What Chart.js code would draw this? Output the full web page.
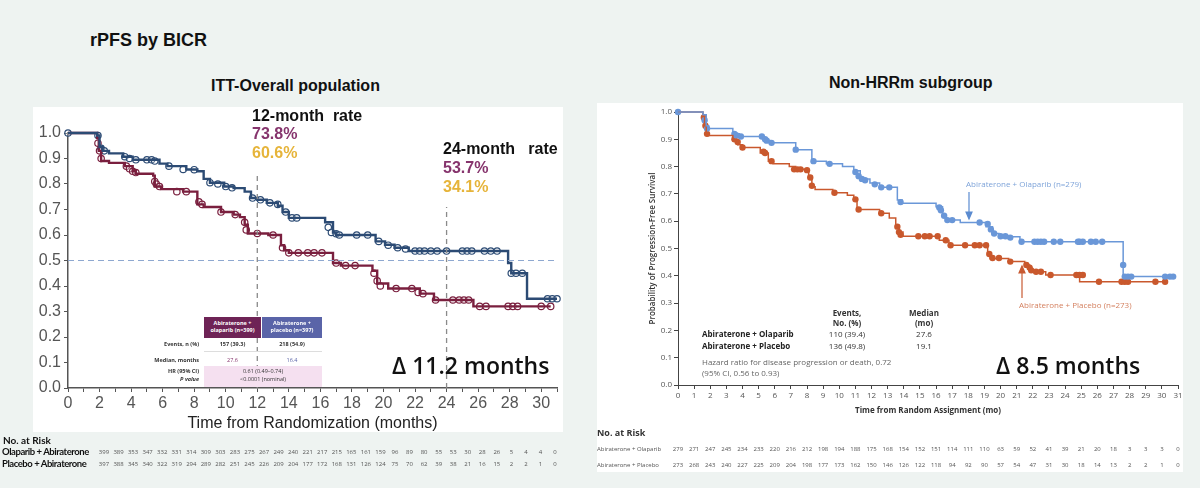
<!DOCTYPE html>
<html>
<head>
<meta charset="utf-8">
<script src="https://cdn.jsdelivr.net/npm/chart.js@4.4.1/dist/chart.umd.min.js"></script>
<style>
  body{margin:0;width:1200px;height:488px;background:#eef3f1;position:relative;overflow:hidden;font-family:"Liberation Sans",Arial,sans-serif;color:#111}
  .abs{position:absolute;white-space:nowrap;line-height:1}
  .panel{position:absolute;background:#fff}
  .big{font-weight:bold;font-size:16px}
  .tbl{font-family:"Open Sans",sans-serif;font-size:5.5px;color:#333}
  .hd{position:absolute;color:#fff;font-family:"Open Sans",sans-serif;font-size:5.5px;font-weight:bold;text-align:center;line-height:1.35;padding-top:3px;box-sizing:border-box}
  .nejm{font-family:"Open Sans",sans-serif;font-size:8px;color:#333}
  .risk{font-family:"Open Sans",sans-serif;font-size:6px;color:#555}
  .delta{font-family:"Open Sans",sans-serif;font-size:23px;font-weight:600;color:#111}
  canvas{position:absolute}
</style>
</head>
<body>
<div class="panel" style="left:33px;top:107px;width:530px;height:325px"></div>
<div class="panel" style="left:597px;top:103px;width:586px;height:369px"></div>

<div class="abs" style="left:90px;top:31px;font-size:18px;font-weight:bold">rPFS by BICR</div>
<div class="abs" style="left:211px;top:78px;font-size:16px;font-weight:bold">ITT-Overall population</div>
<div class="abs" style="left:829px;top:75px;font-size:16px;font-weight:bold">Non-HRRm subgroup</div>

<canvas id="itt" width="575" height="313" style="left:0;top:120px"></canvas>
<canvas id="sub" width="590" height="320" style="left:596px;top:100px"></canvas>

<!-- ITT annotations -->
<div class="abs big" style="left:252px;top:108px">12-month&nbsp;&nbsp;rate</div>
<div class="abs big" style="left:252px;top:126px;color:#86346d">73.8%</div>
<div class="abs big" style="left:252px;top:145px;color:#e6b43a">60.6%</div>
<div class="abs big" style="left:443px;top:141px">24-month&nbsp;&nbsp;&nbsp;rate</div>
<div class="abs big" style="left:443px;top:160px;color:#86346d">53.7%</div>
<div class="abs big" style="left:443px;top:179px;color:#e6b43a">34.1%</div>
<div class="abs delta" style="left:392px;top:354px">Δ 11.2 months</div>

<div class="hd" style="left:204px;top:317px;width:57px;height:21px;background:#6e2356">Abiraterone +<br>olaparib (n=399)</div>
<div class="hd" style="left:262px;top:317px;width:60px;height:21px;background:#5a64a8">Abiraterone +<br>placebo (n=397)</div>
<div class="abs tbl" style="left:150px;top:342px;width:49px;text-align:right;font-weight:bold">Events, n (%)</div>
<div class="abs tbl" style="left:204px;top:342px;width:57px;text-align:center;font-weight:bold">157 (39.3)</div>
<div class="abs tbl" style="left:262px;top:342px;width:60px;text-align:center;font-weight:bold">218 (54.9)</div>
<div class="abs" style="left:204px;top:351px;width:118px;height:1px;background:#ddd"></div>
<div class="abs tbl" style="left:150px;top:358px;width:49px;text-align:right;font-weight:bold">Median, months</div>
<div class="abs tbl" style="left:204px;top:358px;width:57px;text-align:center;color:#86346d">27.6</div>
<div class="abs tbl" style="left:262px;top:358px;width:60px;text-align:center;color:#5a64a8">16.4</div>
<div class="abs" style="left:204px;top:366px;width:118px;height:21px;background:#f5e0f0"></div>
<div class="abs tbl" style="left:150px;top:369px;width:49px;text-align:right;font-weight:bold">HR (95% CI)</div>
<div class="abs tbl" style="left:150px;top:377px;width:49px;text-align:right;font-weight:bold;font-style:italic">P value</div>
<div class="abs tbl" style="left:204px;top:369px;width:118px;text-align:center">0.61 (0.49–0.74)</div>
<div class="abs tbl" style="left:204px;top:377px;width:118px;text-align:center">&lt;0.0001 (nominal)</div>

<!-- Sub-group annotations -->
<div class="abs nejm" style="left:966px;top:180px;color:#7fa4d9">Abiraterone + Olaparib (n=279)</div>
<div class="abs nejm" style="left:1019px;top:301px;color:#d4805f">Abiraterone + Placebo (n=273)</div>
<svg class="abs" style="left:0;top:0" width="1200" height="488">
  <g stroke="#5b8bd0" fill="#5b8bd0" stroke-width="1.2">
    <line x1="969" y1="192" x2="969" y2="215"/><path d="M966 212 L969 219 L972 212 Z"/>
  </g>
  <g stroke="#c85a32" fill="#c85a32" stroke-width="1.2">
    <line x1="1022" y1="298" x2="1022" y2="270"/><path d="M1019 273 L1022 266 L1025 273 Z"/>
  </g>
</svg>
<div class="abs nejm" style="left:826px;top:308px;width:42px;text-align:center;font-weight:bold;line-height:1.3">Events,<br>No. (%)</div>
<div class="abs nejm" style="left:904px;top:308px;width:40px;text-align:center;font-weight:bold;line-height:1.3">Median<br>(mo)</div>
<div class="abs nejm" style="left:702px;top:330px;font-weight:bold;color:#222">Abiraterone + Olaparib</div>
<div class="abs nejm" style="left:702px;top:342px;font-weight:bold;color:#222">Abiraterone + Placebo</div>
<div class="abs nejm" style="left:822px;top:330px;width:50px;text-align:center">110 (39.4)</div>
<div class="abs nejm" style="left:822px;top:342px;width:50px;text-align:center">136 (49.8)</div>
<div class="abs nejm" style="left:904px;top:330px;width:40px;text-align:center">27.6</div>
<div class="abs nejm" style="left:904px;top:342px;width:40px;text-align:center">19.1</div>
<div class="abs nejm" style="left:702px;top:358px;color:#666">Hazard ratio for disease progression or death, 0.72</div>
<div class="abs nejm" style="left:702px;top:369px;color:#666">(95% CI, 0.56 to 0.93)</div>
<div class="abs delta" style="left:996px;top:354px">Δ 8.5 months</div>

<!-- risk tables -->
<div class="abs" style="left:3px;top:435px;font-family:Lato,sans-serif;font-size:10px;font-weight:bold">No. at Risk</div>
<div class="abs" style="left:2px;top:447px;font-family:Lato,sans-serif;font-size:9.5px;font-weight:bold;letter-spacing:-0.45px">Olaparib + Abiraterone</div>
<div class="abs" style="left:2px;top:459px;font-family:Lato,sans-serif;font-size:9.5px;font-weight:bold;letter-spacing:-0.45px">Placebo + Abiraterone</div>
<div class="abs" style="left:597px;top:428px;font-family:'Open Sans',sans-serif;font-size:9px;font-weight:bold;color:#333">No. at Risk</div>
<div class="abs risk" style="left:597px;top:446px">Abiraterone + Olaparib</div>
<div class="abs risk" style="left:597px;top:462px">Abiraterone + Placebo</div>
<div id="riskRows"></div>

<script>
// ---- ITT overall population (rPFS by BICR), step points [month, probability]
const ittOlaparib = [[0,1.0],[1.85,0.99],[2.0,0.945],[2.2,0.93],[2.6,0.92],[3.5,0.907],[4.1,0.895],[5.8,0.88],[6.3,0.87],[7.5,0.857],[8.2,0.85],[8.6,0.82],[9.0,0.805],[9.9,0.79],[10.5,0.784],[11.2,0.77],[11.6,0.745],[12.0,0.738],[12.6,0.726],[13.3,0.715],[13.6,0.69],[14.0,0.667],[16.3,0.65],[16.8,0.61],[17.0,0.60],[19.5,0.575],[20.1,0.562],[20.7,0.55],[21.6,0.537],[27.9,0.49],[28.1,0.45],[29.1,0.35],[31.0,0.35]];
const ittPlacebo = [[0,1.0],[1.85,0.98],[1.95,0.93],[2.1,0.89],[2.6,0.883],[3.6,0.87],[4.1,0.85],[4.3,0.84],[5.4,0.833],[5.5,0.79],[5.9,0.78],[7.3,0.77],[8.2,0.72],[8.6,0.71],[9.7,0.69],[10.5,0.68],[10.9,0.67],[11.2,0.64],[11.4,0.606],[12.7,0.60],[13.5,0.56],[13.7,0.54],[14.0,0.53],[16.8,0.49],[17.3,0.48],[19.3,0.46],[19.6,0.41],[20.3,0.39],[22.3,0.37],[23.2,0.345],[25.7,0.32],[30.6,0.32]];
const ittOlaCensor = [[0,1.0],[1.9,0.99],[2.1,0.94],[2.3,0.93],[3.6,0.907],[3.9,0.9],[4.3,0.895],[5.0,0.895],[5.3,0.895],[5.5,0.89],[6.4,0.87],[7.3,0.857],[8.0,0.856],[9.0,0.805],[9.5,0.8],[10.0,0.79],[10.4,0.785],[11.7,0.745],[12.2,0.738],[12.8,0.726],[13.3,0.72],[13.8,0.69],[14.2,0.667],[14.5,0.667],[16.5,0.63],[16.7,0.61],[17.0,0.605],[17.2,0.6],[18.3,0.6],[19.0,0.6],[19.7,0.575],[20.3,0.56],[20.9,0.55],[21.4,0.545],[22.0,0.537],[22.3,0.537],[22.6,0.537],[23.0,0.537],[23.4,0.537],[24.0,0.537],[25.0,0.537],[25.3,0.537],[25.6,0.537],[26.4,0.537],[26.8,0.537],[27.2,0.537],[28.1,0.45],[28.4,0.45],[28.8,0.45],[30.4,0.35],[30.7,0.35],[31.0,0.35]];
const ittPlaCensor = [[1.9,0.96],[2.0,0.93],[2.1,0.9],[3.7,0.87],[3.9,0.86],[4.1,0.85],[4.3,0.845],[5.5,0.81],[5.6,0.8],[5.8,0.79],[6.9,0.77],[7.5,0.77],[8.3,0.73],[8.5,0.72],[9.7,0.69],[10.6,0.68],[11.2,0.65],[11.3,0.62],[12.0,0.606],[13.0,0.6],[13.6,0.55],[14.0,0.53],[14.6,0.53],[15.2,0.53],[15.6,0.53],[16.1,0.53],[17.0,0.49],[17.6,0.48],[18.2,0.48],[19.4,0.45],[19.6,0.42],[19.8,0.4],[20.8,0.39],[21.8,0.39],[22.2,0.375],[22.5,0.37],[23.3,0.345],[24.4,0.345],[24.8,0.345],[25.1,0.345],[25.4,0.345],[26.1,0.32],[26.5,0.32],[27.9,0.32],[28.2,0.32],[28.5,0.32],[30.0,0.32],[30.6,0.32]];
const ittLandmarks = [[12,0.835],[24,0.71]];
const ittRiskOla = [399,389,353,347,332,331,314,309,303,283,275,267,249,240,221,217,215,165,161,159,96,89,80,55,53,30,28,26,5,4,4,0];
const ittRiskPla = [397,388,345,340,322,319,294,289,282,251,245,226,209,204,177,172,168,131,126,124,75,70,62,39,38,21,16,15,2,2,1,0];

// ---- Non-HRRm subgroup
const subOlaparib = [[0,1.0],[1.55,0.99],[1.75,0.95],[1.9,0.94],[3.4,0.92],[3.8,0.91],[5.3,0.896],[5.7,0.887],[7.3,0.862],[8.3,0.82],[9.2,0.81],[10.2,0.80],[10.9,0.785],[11.3,0.755],[11.9,0.74],[12.5,0.724],[13.6,0.678],[13.9,0.666],[16.0,0.653],[16.4,0.622],[16.6,0.604],[17.5,0.595],[19.1,0.58],[19.5,0.555],[19.9,0.543],[21.2,0.525],[27.6,0.397],[30.7,0.397]];
const subPlacebo = [[0,1.0],[1.55,0.99],[1.65,0.95],[1.75,0.92],[1.9,0.914],[3.4,0.896],[3.7,0.88],[4.0,0.87],[5.1,0.85],[5.6,0.82],[5.9,0.81],[6.9,0.80],[7.3,0.79],[7.9,0.787],[8.1,0.756],[8.3,0.726],[8.5,0.716],[9.6,0.704],[10.5,0.695],[10.9,0.68],[11.1,0.643],[12.5,0.629],[13.1,0.612],[13.5,0.575],[13.7,0.56],[13.95,0.545],[16.2,0.53],[16.8,0.512],[19.2,0.483],[19.35,0.463],[20.5,0.452],[21.5,0.44],[21.8,0.42],[22.0,0.415],[22.8,0.403],[24.9,0.378],[30.2,0.378]];
const subOlaCensor = [[0,1.0],[1.65,0.97],[1.8,0.94],[3.5,0.92],[3.6,0.915],[3.9,0.91],[5.2,0.91],[5.4,0.9],[5.5,0.895],[5.8,0.887],[7.3,0.862],[8.4,0.82],[9.4,0.81],[11.0,0.78],[11.2,0.765],[11.4,0.755],[11.6,0.75],[12.2,0.735],[12.6,0.724],[13.1,0.724],[13.8,0.67],[16.2,0.65],[16.3,0.64],[16.5,0.62],[16.7,0.604],[17.0,0.604],[18.7,0.595],[19.2,0.59],[19.4,0.57],[19.6,0.555],[20.0,0.545],[20.3,0.545],[20.6,0.54],[21.3,0.525],[22.1,0.525],[22.3,0.525],[22.5,0.525],[22.7,0.525],[23.3,0.525],[23.7,0.525],[24.8,0.525],[24.9,0.525],[25.1,0.525],[25.6,0.525],[25.9,0.525],[26.3,0.525],[27.6,0.44],[27.7,0.397],[27.9,0.397],[28.1,0.397],[30.2,0.397],[30.5,0.397],[30.7,0.397]];
const subPlaCensor = [[1.6,0.98],[1.7,0.95],[1.8,0.92],[3.5,0.9],[3.7,0.89],[4.0,0.87],[5.3,0.855],[5.4,0.85],[5.8,0.82],[7.2,0.79],[7.4,0.79],[7.6,0.79],[8.0,0.787],[8.2,0.76],[8.3,0.73],[9.7,0.704],[11.0,0.68],[11.2,0.643],[12.6,0.629],[13.6,0.58],[13.7,0.56],[13.8,0.55],[14.9,0.545],[15.3,0.545],[15.6,0.545],[16.1,0.545],[16.6,0.53],[16.9,0.512],[17.8,0.512],[18.4,0.512],[18.7,0.512],[19.1,0.512],[19.3,0.48],[19.5,0.465],[19.9,0.465],[20.6,0.452],[21.6,0.44],[21.8,0.43],[21.9,0.42],[22.2,0.415],[22.5,0.415],[23.1,0.403],[24.7,0.403],[24.9,0.403],[25.1,0.403],[26.1,0.378],[27.5,0.378],[27.7,0.378],[27.9,0.378],[29.6,0.378],[30.2,0.378]];
const subRiskOla = [279,271,247,245,234,233,220,216,212,198,194,188,175,168,154,152,151,114,111,110,63,59,52,41,39,21,20,18,3,3,3,0];
const subRiskPla = [273,268,243,240,227,225,209,204,198,177,173,162,150,146,126,122,118,94,92,90,57,54,47,31,30,18,14,13,2,2,1,0];

const xy = arr => arr.map(p => ({x: p[0], y: p[1]}));
const stepLine = (arr, color, w) => ({data: xy(arr), borderColor: color, borderWidth: w, stepped: 'before', pointRadius: 0, fill: false, clip: false});
const marks = (arr, color, fillCol, r, bw) => ({data: xy(arr), showLine: false, pointStyle: 'circle', pointRadius: r, pointBorderColor: color, pointBackgroundColor: fillCol, pointBorderWidth: bw, borderColor: color, clip: false});

const NAVY = '#2c4b74', MAROON = '#7a1f3e';
const LBLUE = '#6a97d8', ORANGE = '#c9582d';

const ittSets = [
  {data: [{x:0,y:0.5},{x:31,y:0.5}], borderColor:'#8ea8d0', borderWidth:1, borderDash:[6,4], pointRadius:0}
];
ittLandmarks.forEach(l => ittSets.push({data:[{x:l[0],y:0},{x:l[0],y:l[1]}], borderColor:'#8a8a8a', borderWidth:1.3, borderDash:[5,4], pointRadius:0}));
ittSets.push(stepLine(ittOlaparib, NAVY, 2.4), stepLine(ittPlacebo, MAROON, 2.4),
  marks(ittOlaCensor, NAVY, 'rgba(255,255,255,0.3)', 3.2, 1.2), marks(ittPlaCensor, MAROON, 'rgba(255,255,255,0.3)', 3.2, 1.2));

new Chart(document.getElementById('itt'), {
  type: 'line',
  data: {datasets: ittSets},
  options: {
    responsive: false, animation: false, devicePixelRatio: 1,
    layout: {padding: {top: 13, right: 18, left: 0, bottom: 0}},
    plugins: {legend: {display: false}, tooltip: {enabled: false}},
    scales: {
      x: {type: 'linear', min: 0, max: 31,
        ticks: {stepSize: 1, autoSkip: false, maxRotation: 0, padding: 2, color: '#555', font: {family: 'Liberation Sans', size: 16},
          callback: v => v % 2 === 0 ? String(v) : ''},
        grid: {drawOnChartArea: false, tickLength: 4, color: '#555'},
        border: {color: '#555', width: 1.5},
        title: {display: true, text: 'Time from Randomization (months)', color: '#222', font: {family: 'Liberation Sans', size: 16}, padding: {top: 0, bottom: 0}},
        afterFit: s => { s.height = 45; }
      },
      y: {min: 0, max: 1,
        ticks: {stepSize: 0.1, padding: 3, color: '#555', font: {family: 'Liberation Sans', size: 16}, callback: v => v.toFixed(1)},
        grid: {drawOnChartArea: false, tickLength: 4, color: '#555'},
        border: {color: '#555', width: 1.5},
        afterFit: s => { s.width = 68; }
      }
    }
  }
});

const subChart = new Chart(document.getElementById('sub'), {
  type: 'line',
  data: {datasets: [
    stepLine(subOlaparib, LBLUE, 1.5), stepLine(subPlacebo, ORANGE, 1.5),
    marks(subOlaCensor, LBLUE, LBLUE, 3.2, 0), marks(subPlaCensor, ORANGE, ORANGE, 3.2, 0)
  ]},
  options: {
    responsive: false, animation: false, devicePixelRatio: 1,
    layout: {padding: {top: 12, right: 8, left: 50, bottom: 0}},
    plugins: {legend: {display: false}, tooltip: {enabled: false}},
    scales: {
      x: {type: 'linear', min: 0, max: 31,
        ticks: {stepSize: 1, autoSkip: false, maxRotation: 0, padding: 2, color: '#555', font: {family: 'Open Sans', size: 8}},
        grid: {drawOnChartArea: false, tickLength: 4, color: '#444'},
        border: {color: '#444', width: 1},
        title: {display: true, text: 'Time from Random Assignment (mo)', color: '#333', font: {family: 'Open Sans', size: 8, weight: 'bold'}, padding: {top: 0, bottom: 4}},
        afterFit: s => { s.height = 35; }
      },
      y: {min: 0, max: 1,
        ticks: {stepSize: 0.1, padding: 2, color: '#555', font: {family: 'Open Sans', size: 8}, callback: v => v.toFixed(1)},
        grid: {drawOnChartArea: false, tickLength: 4, color: '#444'},
        border: {color: '#444', width: 1},
        title: {display: true, text: 'Probability of Progression-Free Survival', color: '#333', font: {family: 'Open Sans', size: 8, weight: '600'}, padding: 2},
        afterFit: s => { s.width = 32; }
      }
    }
  }
});

// risk table numbers
const rr = document.getElementById('riskRows');
function addNum(txt, cx, top, cls) {
  const d = document.createElement('div');
  d.className = 'abs ' + cls;
  d.style.cssText = `left:${cx - 15}px;top:${top}px;width:30px;text-align:center`;
  d.textContent = txt;
  rr.appendChild(d);
}
ittRiskOla.forEach((n, i) => addNum(n, 104 + i * 14.55, 449, 'risk'));
ittRiskPla.forEach((n, i) => addNum(n, 104 + i * 14.55, 461, 'risk'));
const sx = subChart.scales.x;
subRiskOla.forEach((n, i) => addNum(n, 596 + sx.getPixelForValue(i), 446, 'risk'));
subRiskPla.forEach((n, i) => addNum(n, 596 + sx.getPixelForValue(i), 462, 'risk'));
</script>
</body>
</html>
